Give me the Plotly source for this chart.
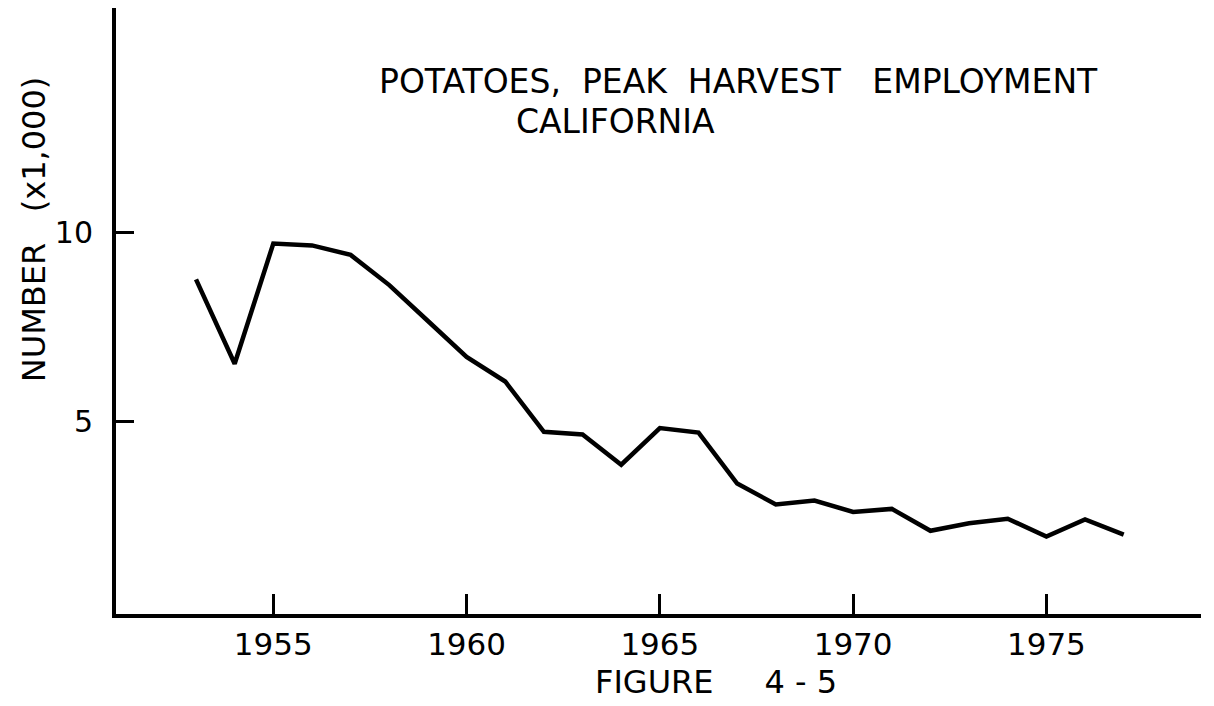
import plotly.graph_objects as go

years = list(range(1953, 1978))
employment = [8.75, 6.52, 9.70, 9.65, 9.40, 8.60, 7.65, 6.70, 6.05, 4.72,
              4.65, 3.85, 4.82, 4.70, 3.35, 2.80, 2.90, 2.60, 2.68, 2.10,
              2.30, 2.42, 1.95, 2.40, 2.00]

x_ticks = [1955, 1960, 1965, 1970, 1975]
y_ticks = [5, 10]
NB = "\u00a0"
title_line1 = "POTATOES," + NB * 2 + "PEAK" + NB * 2 + "HARVEST" + NB * 3 + "EMPLOYMENT"
title_line2 = "CALIFORNIA"
y_title = "NUMBER" + NB * 3 + "(x1,000)"
caption = "FIGURE" + NB * 5 + "4 - 5"

FONT = "DejaVu Sans"

fig = go.Figure()
fig.add_trace(go.Scatter(x=years, y=employment, mode="lines",
                         line=dict(color="black", width=4.5),
                         hoverinfo="skip", showlegend=False))

fig.update_layout(
    width=1214, height=706,
    margin=dict(l=116, r=13, t=8, b=92),
    paper_bgcolor="white", plot_bgcolor="white",
    font=dict(family=FONT, color="black"),
    showlegend=False,
    xaxis=dict(range=[1950.93, 1979.0], showgrid=False, zeroline=False,
               showline=True, linecolor="black", linewidth=4,
               ticks="inside", ticklen=20, tickwidth=3, tickcolor="black",
               tickvals=x_ticks, ticktext=[str(v) for v in x_ticks],
               tickfont=dict(family=FONT, size=31, color="black"),
               ticklabelstandoff=0),
    yaxis=dict(range=[-0.1, 15.93], showgrid=False, zeroline=False,
               showline=True, linecolor="black", linewidth=4,
               ticks="inside", ticklen=18, tickwidth=3, tickcolor="black",
               tickvals=y_ticks, ticktext=[str(v) for v in y_ticks],
               tickfont=dict(family=FONT, size=30, color="black"),
               ticklabelstandoff=13),
)

fig.add_annotation(text=title_line1, xref="paper", yref="paper",
                   x=0.574, y=0.879, xanchor="center", yanchor="middle",
                   showarrow=False, font=dict(family=FONT, size=33, color="black"))
fig.add_annotation(text=title_line2, xref="paper", yref="paper",
                   x=0.46, y=0.812, xanchor="center", yanchor="middle",
                   showarrow=False, font=dict(family=FONT, size=33, color="black"))
fig.add_annotation(text=y_title, xref="paper", yref="paper",
                   x=-0.0756, y=0.635, xanchor="center", yanchor="middle",
                   textangle=-90, showarrow=False,
                   font=dict(family=FONT, size=32, color="black"))
fig.add_annotation(text=caption, xref="paper", yref="paper",
                   x=0.553, y=-0.1125, xanchor="center", yanchor="middle",
                   showarrow=False, font=dict(family=FONT, size=32, color="black"))

fig.write_html("out.html", config={"displayModeBar": False},
               post_script="document.body.style.margin='0';")
